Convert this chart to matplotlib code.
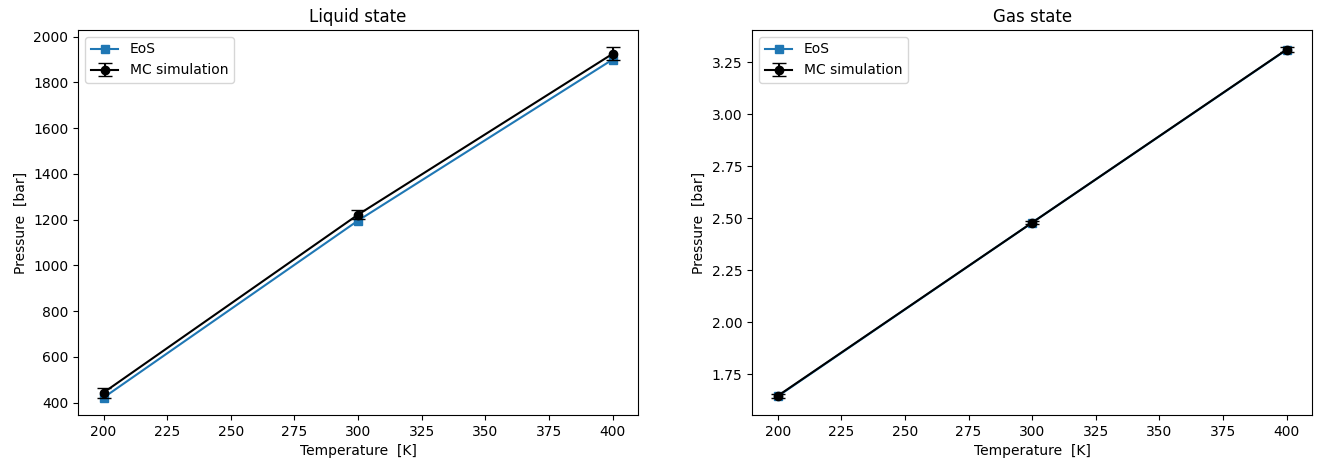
import matplotlib
matplotlib.use('Agg')
import matplotlib.pyplot as plt

temps = [200, 300, 400]

# liquid state
liq_eos = [422, 1196, 1900]
liq_mc = [444, 1222, 1925]
liq_err = [22, 20, 28]

# gas state
gas_eos = [1.643, 2.478, 3.309]
gas_mc = [1.645, 2.478, 3.310]
gas_err = [0.008, 0.008, 0.010]

fig, axs = plt.subplots(nrows=1, ncols=2, figsize=(13.24, 4.68), dpi=100)
fig.subplots_adjust(left=0.059, right=0.991, top=0.936, bottom=0.113, wspace=0.204)

data = [('Liquid state', liq_eos, liq_mc, liq_err),
		('Gas state', gas_eos, gas_mc, gas_err)]

for ax, (title, eos, mc, err) in zip(axs, data):
	ax.plot(temps, eos, 's-', color='C0', label='EoS')
	ax.errorbar(temps, mc, yerr=err, fmt='o-', color='black', capsize=5, label='MC simulation')
	ax.set_title(title)
	ax.set_xlabel('Temperature  [K]')
	ax.set_ylabel('Pressure  [bar]')
	ax.legend(loc='upper left')

fig.savefig('out.png')
